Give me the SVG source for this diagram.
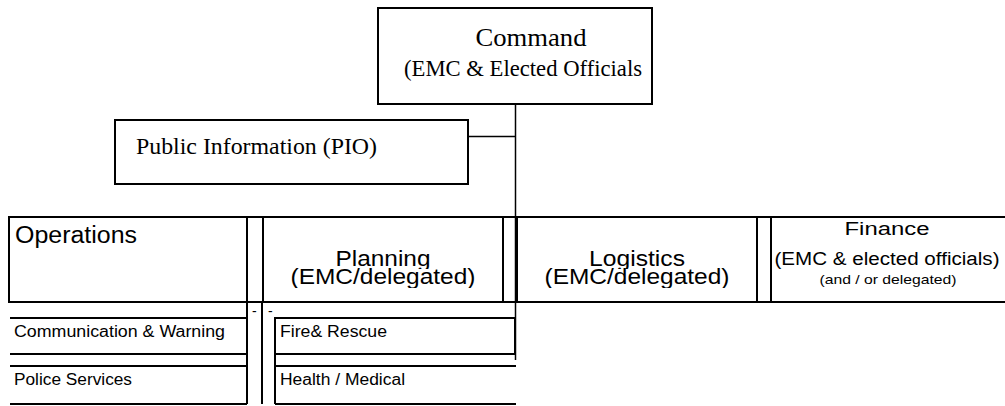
<svg xmlns="http://www.w3.org/2000/svg" width="1005" height="406" viewBox="0 0 1005 406">
<style>
.box{fill:#fff;stroke:#000;stroke-width:2}
.ln{stroke:#000;stroke-width:2;fill:none}
.cn{stroke:#000;stroke-width:1.5;fill:none}
.serif{font-family:"Liberation Serif","Times New Roman",serif;fill:#000}
.sans{font-family:"Liberation Sans",Arial,sans-serif;fill:#000}
</style>
<defs>
<clipPath id="clipTop"><rect x="0" y="240" width="1005" height="29"/></clipPath>
<clipPath id="clipBot"><rect x="0" y="262" width="1005" height="26"/></clipPath>
</defs>
<rect width="1005" height="406" fill="#fff"/>
<g id="connectors">
<line class="cn" x1="515.5" y1="104" x2="515.5" y2="360"/>
<line class="cn" x1="468" y1="136.5" x2="515.5" y2="136.5"/>
</g>
<g id="command">
<rect class="box" x="378" y="8" width="274" height="96"/>
<text class="serif" x="531" y="46" font-size="25" text-anchor="middle" textLength="111" lengthAdjust="spacingAndGlyphs">Command</text>
<text class="serif" x="523" y="76" font-size="23.5" text-anchor="middle" textLength="238" lengthAdjust="spacingAndGlyphs">(EMC &amp; Elected Officials</text>
</g>
<g id="pio">
<rect class="box" x="115" y="120" width="353" height="64"/>
<text class="serif" x="136" y="154" font-size="23.5" textLength="241" lengthAdjust="spacingAndGlyphs">Public Information (PIO)</text>
</g>
<g id="sections">
<line class="ln" x1="9" y1="217" x2="1005" y2="217"/>
<line class="ln" x1="9" y1="302" x2="1005" y2="302"/>
<line class="ln" x1="9" y1="216" x2="9" y2="303"/>
<line class="ln" x1="247" y1="216" x2="247" y2="404"/>
<line class="ln" x1="263" y1="216" x2="263" y2="303"/>
<line class="ln" x1="262" y1="302" x2="262" y2="404"/>
<line class="ln" x1="503" y1="216" x2="503" y2="303"/>
<line class="ln" x1="517" y1="216" x2="517" y2="303"/>
<line class="ln" x1="757" y1="216" x2="757" y2="303"/>
<line class="ln" x1="771" y1="216" x2="771" y2="303"/>
</g>
<g id="operations">
<text class="sans" x="15" y="243" font-size="23" textLength="122" lengthAdjust="spacingAndGlyphs">Operations</text>
</g>
<g id="planning">
<text class="sans" x="383" y="266" font-size="22" text-anchor="middle" textLength="95" lengthAdjust="spacingAndGlyphs" clip-path="url(#clipTop)">Planning</text>
<text class="sans" x="383" y="284" font-size="22" text-anchor="middle" textLength="185" lengthAdjust="spacingAndGlyphs" clip-path="url(#clipBot)">(EMC/delegated)</text>
</g>
<g id="logistics">
<text class="sans" x="637" y="266" font-size="22" text-anchor="middle" textLength="96" lengthAdjust="spacingAndGlyphs" clip-path="url(#clipTop)">Logistics</text>
<text class="sans" x="637" y="284" font-size="22" text-anchor="middle" textLength="185" lengthAdjust="spacingAndGlyphs" clip-path="url(#clipBot)">(EMC/delegated)</text>
</g>
<g id="finance">
<text class="sans" x="887" y="235" font-size="17.5" text-anchor="middle" textLength="85" lengthAdjust="spacingAndGlyphs">Finance</text>
<text class="sans" x="887" y="265" font-size="18" text-anchor="middle" textLength="225" lengthAdjust="spacingAndGlyphs">(EMC &amp; elected officials)</text>
<text class="sans" x="888" y="284" font-size="13" text-anchor="middle" textLength="137" lengthAdjust="spacingAndGlyphs">(and / or delegated)</text>
</g>
<g id="comm-warning">
<line class="ln" x1="10" y1="318" x2="247" y2="318"/>
<line class="ln" x1="10" y1="354" x2="247" y2="354"/>
<text class="sans" x="14" y="337" font-size="16" textLength="211" lengthAdjust="spacingAndGlyphs">Communication &amp; Warning</text>
</g>
<g id="police">
<line class="ln" x1="10" y1="366" x2="247" y2="366"/>
<line class="ln" x1="10" y1="404" x2="247" y2="404"/>
<text class="sans" x="14" y="385" font-size="16" textLength="118" lengthAdjust="spacingAndGlyphs">Police Services</text>
</g>
<g id="dashes">
<text class="sans" x="252" y="316" font-size="14">-</text>
<text class="sans" x="268" y="316" font-size="14">-</text>
</g>
<g id="fire-rescue">
<line class="ln" x1="275" y1="317" x2="275" y2="404"/>
<line class="ln" x1="275" y1="318" x2="516" y2="318"/>
<line class="ln" x1="275" y1="354" x2="516" y2="354"/>
<line class="ln" x1="515" y1="318" x2="515" y2="354"/>
<text class="sans" x="280" y="337" font-size="16" textLength="107" lengthAdjust="spacingAndGlyphs">Fire&amp; Rescue</text>
</g>
<g id="health">
<line class="ln" x1="275" y1="366" x2="516" y2="366"/>
<line class="ln" x1="275" y1="404" x2="516" y2="404"/>
<text class="sans" x="280" y="385" font-size="16" textLength="125" lengthAdjust="spacingAndGlyphs">Health / Medical</text>
</g>
</svg>
